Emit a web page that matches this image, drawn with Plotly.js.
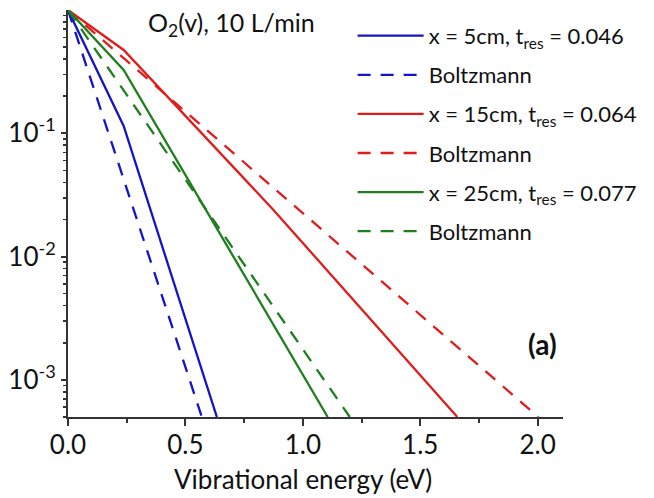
<!DOCTYPE html>
<html>
<head>
<meta charset="utf-8">
<script src="https://cdn.plot.ly/plotly-3.0.1.min.js"></script>
<style>html,body{margin:0;padding:0;background:#fff;}#chart{width:654px;height:498px;}</style>
</head>
<body>
<div id="chart"></div>
<script>
// Vibrational energy (eV) and normalised populations
const blueE = [0, 0.237, 0.634];
const blueN = [1, 0.1146, 5e-4];
const blueBoltzE = [0, 0.570];
const blueBoltzN = [1, 5e-4];

const redE = [0, 0.237, 0.875, 1.658];
const redN = [1, 0.474, 0.0239, 5e-4];
const redBoltzE = [0, 2.003];
const redBoltzN = [1, 5e-4];

const greenE = [0, 0.237, 1.106];
const greenN = [1, 0.326, 5e-4];
const greenBoltzE = [0, 1.20];
const greenBoltzN = [1, 5e-4];

const seriesNames = [
  'x = 5cm, t<sub>res</sub> = 0.046', 'Boltzmann',
  'x = 15cm, t<sub>res</sub> = 0.064', 'Boltzmann',
  'x = 25cm, t<sub>res</sub> = 0.077', 'Boltzmann'
];
const yTickVals = [1e-3, 1e-2, 1e-1];
const yTickText = ['10<sup>-3</sup>', '10<sup>-2</sup>', '10<sup>-1</sup>'];
const xTickVals = [0, 0.5, 1.0, 1.5, 2.0];
const xTickText = ['0.0', '0.5', '1.0', '1.5', '2.0'];

const BLUE = '#1414c8', RED = '#e01c1c', GREEN = '#1f7f1f';
const DASH = '13px,10px';
const FONT = 'Lato, "Open Sans", sans-serif';

function tr(x, y, name, color, dash, g) {
  return {x: x, y: y, name: name, type: 'scatter', mode: 'lines', legendgroup: g,
    line: {color: color, width: 2.3, dash: dash}};
}
const data = [
  tr(blueE, blueN, seriesNames[0], BLUE, 'solid', 'g1'),
  tr(blueBoltzE, blueBoltzN, seriesNames[1], BLUE, DASH, 'g2'),
  tr(redE, redN, seriesNames[2], RED, 'solid', 'g3'),
  tr(redBoltzE, redBoltzN, seriesNames[3], RED, DASH, 'g4'),
  tr(greenE, greenN, seriesNames[4], GREEN, 'solid', 'g5'),
  tr(greenBoltzE, greenBoltzN, seriesNames[5], GREEN, DASH, 'g6')
];

// minor tick positions on the log axis (2..9 x 10^k)
const yMinor = [];
for (let k = -4; k <= -1; k++) for (let m = 2; m <= 9; m++) yMinor.push(m * Math.pow(10, k));

const layout = {
  width: 654, height: 498,
  margin: {l: 68, r: 91, t: 10, b: 81},
  paper_bgcolor: '#fff', plot_bgcolor: '#fff',
  font: {family: FONT, color: '#111', size: 24},
  showlegend: true,
  legend: {x: 0.575, y: 0.988, xanchor: 'left', yanchor: 'top', bgcolor: 'rgba(0,0,0,0)',
    font: {size: 22, family: FONT, color: '#111'}, itemwidth: 66, tracegroupgap: 7.5,
    traceorder: 'grouped'},
  xaxis: {range: [0, 2.108], showline: true, linecolor: '#333', linewidth: 2,
    zeroline: false, showgrid: false, ticks: 'outside', ticklen: 7, tickwidth: 2, tickcolor: '#333',
    tickmode: 'array', tickvals: xTickVals, ticktext: xTickText, ticklabelstandoff: -3,
    tickfont: {size: 26, family: FONT, color: '#111'},
    minor: {ticks: 'outside', ticklen: 4, tickwidth: 2, tickcolor: '#333', dtick: 0.25, tick0: 0, showgrid: false}},
  yaxis: {type: 'log', range: [Math.log10(5e-4), 0], showline: true, linecolor: '#333', linewidth: 2,
    zeroline: false, showgrid: false, ticks: 'outside', ticklen: 5, tickwidth: 2, tickcolor: '#333',
    tickmode: 'array', tickvals: yTickVals, ticktext: yTickText,
    tickfont: {size: 26, family: FONT, color: '#111'},
    minor: {ticks: 'outside', ticklen: 3, tickwidth: 1.5, tickcolor: '#333', tickmode: 'array', tickvals: yMinor, showgrid: false}},
  annotations: [
    {text: 'Vibrational energy (eV)', xref: 'x', yref: 'paper', x: 1.0, y: 0, yshift: -62,
      showarrow: false, xanchor: 'center', yanchor: 'middle', font: {size: 26, family: FONT, color: '#111'}},
    {text: 'O<sub>2</sub>(v), 10 L/min', xref: 'paper', yref: 'paper', x: (231 - 68) / 495, y: 1, yshift: -14,
      showarrow: false, xanchor: 'center', yanchor: 'middle', font: {size: 25, family: FONT, color: '#111'}},
    {text: '<b>(a)</b>', xref: 'paper', yref: 'paper', x: (542 - 68) / 495, y: 1 - (344 - 10) / 407,
      showarrow: false, xanchor: 'center', yanchor: 'middle', font: {size: 28, family: FONT, color: '#111'}}
  ]
};

Plotly.newPlot('chart', data, layout, {staticPlot: true, displayModeBar: false});
</script>
</body>
</html>
